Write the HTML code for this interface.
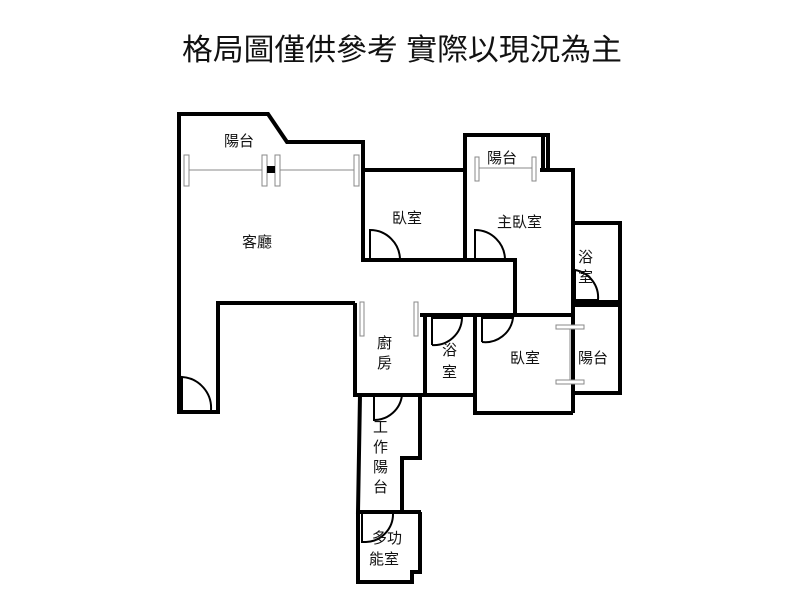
<!DOCTYPE html>
<html><head><meta charset="utf-8"><style>
html,body{margin:0;padding:0;background:#fff;}
svg{display:block;}
text{font-family:"Liberation Sans","Noto Sans CJK TC",sans-serif;fill:#111;}
</style></head><body>
<svg width="800" height="600" viewBox="0 0 800 600" xmlns="http://www.w3.org/2000/svg">
<rect width="800" height="600" fill="#fff"/>
<text x="182" y="60" font-size="30" textLength="440" lengthAdjust="spacingAndGlyphs">格局圖僅供參考 實際以現況為主</text>
<g fill="none" stroke="#000" stroke-width="4" stroke-linejoin="miter">
<!-- living room outer -->
<polyline points="363,172 363,142 287,142 268,114 179,114 179,412 218,412 218,303 355,303"/>
<!-- bedroom 1 -->
<polyline points="363,170 465,170 465,260"/>
<polyline points="363,170 363,260 515,260 515,315 420,315"/>
<!-- balcony top -->
<polyline points="465,170 465,135 548,135 548,170"/>
<line x1="543" y1="135" x2="543" y2="170"/>
<!-- master -->
<polyline points="540,170 573,170 573,413"/>
<!-- bath right -->
<polyline points="573,223 620,223 620,302 573,302"/>
<polyline points="573,305 620,305 620,393 573,393"/>
<!-- lower bedroom -->
<polyline points="475,315 475,413 573,413"/>
<line x1="515" y1="315" x2="573" y2="315"/>
<!-- bath lower -->
<polyline points="425,315 425,395 475,395"/>
<!-- kitchen -->
<polyline points="355,303 355,395 425,395"/>
<!-- work balcony -->
<polyline points="360,395 358,512 421,512"/>
<polyline points="420,395 420,458 402,458 402,512"/>
<!-- multi room -->
<polyline points="358,512 358,582 412,582 412,572 420,572 420,512"/>
</g>
<g fill="none" stroke="#000" stroke-width="2">
<path d="M370,260 V230 A30,30 0 0 1 400,260"/>
<path d="M475,260 V230 A30,30 0 0 1 505,260"/>
<path d="M182,410 V377 A31,31 0 0 1 211,410"/>
<path d="M598,300 H575 V270 A28,28 0 0 1 598,300"/>
<path d="M432,345 V318 H462 A28,28 0 0 1 432,345"/>
<path d="M482,342 V318 H513 A28,28 0 0 1 482,342"/>
<path d="M374,395 V420 A28,28 0 0 0 402,395"/>
<path d="M362,513 V542 H366 A28,28 0 0 0 393,513"/>
</g>
<g stroke="#888" stroke-width="1" fill="#fff">
<line x1="188" y1="170" x2="357" y2="170"/>
<rect x="184" y="155" width="5" height="31"/>
<rect x="262" y="155" width="5" height="31"/>
<rect x="275" y="155" width="5" height="31"/>
<rect x="354" y="155" width="5" height="31"/>
<line x1="477" y1="168" x2="535" y2="168"/>
<rect x="475" y="157" width="4" height="24"/>
<rect x="532" y="157" width="4" height="24"/>
<line x1="570" y1="328" x2="570" y2="382"/>
<rect x="556" y="325" width="28" height="4"/>
<rect x="556" y="380" width="28" height="4"/>
<rect x="360" y="302" width="4" height="34"/>
<rect x="414" y="302" width="4" height="34"/>
</g>
<rect x="267" y="166" width="8" height="7" fill="#000"/>
<g font-size="15">
<text x="224" y="146">陽台</text>
<text x="242" y="247">客廳</text>
<text x="392" y="223">臥室</text>
<text x="497" y="227">主臥室</text>
<text x="487" y="163">陽台</text>
<text x="578" y="262">浴</text>
<text x="578" y="282">室</text>
<text x="377" y="348">廚</text>
<text x="377" y="368">房</text>
<text x="442" y="355">浴</text>
<text x="442" y="377">室</text>
<text x="510" y="363">臥室</text>
<text x="578" y="363">陽台</text>
<text x="373" y="432">工</text>
<text x="373" y="452">作</text>
<text x="373" y="472">陽</text>
<text x="373" y="492">台</text>
<text x="372" y="543">多功</text>
<text x="369" y="564">能室</text>
</g>
</svg>
</body></html>
